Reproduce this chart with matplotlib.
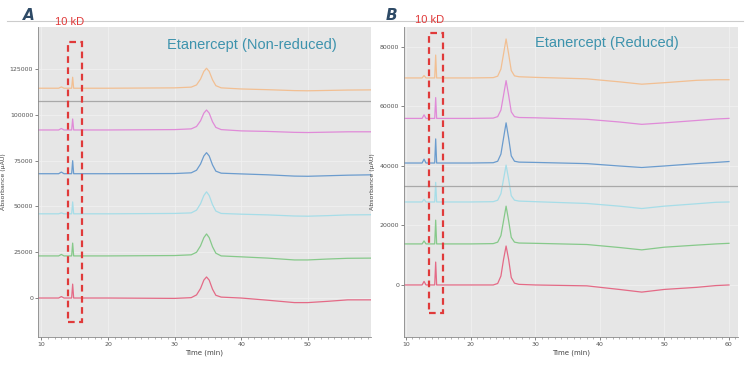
import matplotlib
matplotlib.use("Agg")
import matplotlib.pyplot as plt
from matplotlib.patches import Rectangle
from matplotlib.lines import Line2D
from matplotlib.ticker import MultipleLocator

# ---------------- data ----------------
# Panel A (non-reduced)
tA = [9.5, 12.6, 13.0, 13.4, 14.55, 14.7, 14.85, 20, 30, 32.5, 33.3, 33.9, 34.4, 34.8,
      35.2, 35.7, 36.2, 37.0, 40, 44, 48, 50, 53, 56, 59.5]
a_red = [0, 0, 800, 0, 0, 7600, 0, 0, -200, 200, 1700, 5200, 9800, 11500, 9800, 4800,
         1500, 500, 0, -1200, -2500, -2500, -1800, -1000, -1000]
a_green = [23000, 23000, 23800, 23000, 23000, 30000, 23000, 23000, 23200, 23600, 25000,
           28500, 33000, 35000, 33000, 28000, 24500, 23000, 22500, 21800, 20800, 20800,
           21300, 21700, 21800]
a_cyan = [46000, 46000, 46500, 46000, 46000, 52500, 46000, 46000, 46200, 46500, 48000,
          51500, 56000, 58000, 56000, 51000, 47500, 46200, 45800, 45400, 44800, 44700,
          45000, 45400, 45500]
a_blue = [67900, 67900, 68800, 67900, 67900, 75000, 67900, 67900, 68000, 68400, 69800,
          73200, 77600, 79400, 77600, 72700, 69300, 68200, 67800, 67300, 66600, 66500,
          66800, 67100, 67300]
a_magenta = [91800, 91800, 92600, 91800, 91800, 97800, 91800, 91800, 92000, 92400, 93700,
             96800, 101000, 102700, 101000, 96300, 93200, 92000, 91300, 91000, 90500,
             90400, 90600, 90800, 90800]
a_orange = [114600, 114600, 115300, 114600, 114600, 120600, 114600, 114600, 114800,
            115200, 116400, 119600, 123800, 125500, 123800, 119200, 116000, 114800,
            114200, 113800, 113300, 113200, 113400, 113600, 113700]
a_gray_t = [9.5, 59.5]
a_gray = [107700, 107700]

# Panel B (reduced)
tB = [9.7, 12.5, 12.8, 13.1, 14.45, 14.6, 14.75, 20, 23.5, 24.2, 24.7, 25.1, 25.5, 25.9,
      26.3, 26.8, 27.5, 30, 38, 43, 46.5, 50, 55, 58, 60]
b_red = [0, 0, 1200, 0, 0, 7700, 0, 0, 0, 500, 3000, 8500, 13100, 8500, 2500, 600, 200,
         0, -300, -1500, -2400, -1500, -800, -200, 0]
b_green = [13800, 13800, 14800, 13800, 13800, 21800, 13800, 13800, 13900, 14400, 16600,
           21500, 26500, 21500, 16000, 14400, 14100, 14000, 13600, 12600, 11800, 12700,
           13400, 13800, 14000]
b_cyan = [27900, 27900, 28800, 27900, 27900, 34500, 27900, 27900, 28000, 28500, 30700,
          35500, 40300, 35500, 30000, 28500, 28200, 28000, 27400, 26500, 25700, 26500,
          27300, 27800, 27900]
b_blue = [41000, 41000, 42300, 41000, 41000, 49100, 41000, 41000, 41100, 41600, 44000,
          49300, 54500, 49300, 43400, 41600, 41300, 41200, 40800, 40000, 39500, 40000,
          40800, 41200, 41500]
b_magenta = [56000, 56000, 57200, 56000, 56000, 63000, 56000, 56000, 56100, 56600, 58800,
             63700, 68700, 63700, 58200, 56600, 56300, 56200, 55700, 54800, 54000, 54500,
             55300, 55800, 56000]
b_orange = [69600, 69600, 70400, 69600, 69600, 77300, 69600, 69600, 69700, 70200, 72600,
            77600, 82700, 77600, 72100, 70300, 70000, 69800, 69300, 68300, 67500, 68000,
            68800, 69000, 69000]
b_gray_t = [9.7, 61.4]
b_gray = [33300, 33300]

yticksA = [0, 25000, 50000, 75000, 100000, 125000]
yticksB = [0, 20000, 40000, 60000, 80000]
xticksA = [10, 20, 30, 40, 50]
xticksB = [10, 20, 30, 40, 50, 60]

# ---------------- style ----------------
C_RED = "#e46a86"
C_GREEN = "#86c98a"
C_CYAN = "#a6dde8"
C_BLUE = "#6b9cce"
C_MAG = "#e08ad8"
C_ORANGE = "#f2bf92"
C_GRAY = "#a9a9a9"
C_BOX = "#e03a3a"
C_TITLE = "#3d93ad"
NARROW = ["Liberation Sans", "DejaVu Sans"]

fig = plt.figure(figsize=(7.5, 3.71), dpi=100)
fig.patch.set_facecolor("white")

axA = fig.add_axes([0.0507, 0.0916, 0.444, 0.8354])
axB = fig.add_axes([0.5387, 0.0916, 0.4453, 0.8354])


def style(ax, xlim, ylim, xt, yt):
    ax.set_facecolor("#e6e6e6")
    ax.set_xlim(*xlim)
    ax.set_ylim(*ylim)
    ax.set_xticks(xt)
    ax.set_yticks(yt)
    ax.xaxis.set_minor_locator(MultipleLocator(1))
    ax.tick_params(axis="both", which="major", labelsize=4.5, length=2, width=0.5,
                   colors="#555555", pad=1.5)
    ax.tick_params(axis="both", which="minor", length=1.2, width=0.4, colors="#777777")
    for s in ["top", "right"]:
        ax.spines[s].set_visible(False)
    for s in ["left", "bottom"]:
        ax.spines[s].set_color("#888888")
        ax.spines[s].set_linewidth(0.6)
    ax.grid(True, color="#f2f2f2", linewidth=0.5)
    ax.set_axisbelow(True)
    ax.set_xlabel("Time (min)", fontsize=5, color="#444444", labelpad=2)
    ax.set_ylabel("Absorbance (µAU)", fontsize=4.5, color="#444444", labelpad=3)


style(axA, (9.5, 59.5), (-21300, 148000), xticksA, yticksA)
style(axB, (9.7, 61.4), (-17500, 86700), xticksB, yticksB)

lw = 0.9
for ys, c in [(a_red, C_RED), (a_green, C_GREEN), (a_cyan, C_CYAN), (a_blue, C_BLUE),
              (a_magenta, C_MAG), (a_orange, C_ORANGE)]:
    axA.plot(tA, ys, color=c, lw=lw)
axA.plot(a_gray_t, a_gray, color=C_GRAY, lw=lw)

for ys, c in [(b_red, C_RED), (b_green, C_GREEN), (b_cyan, C_CYAN), (b_blue, C_BLUE),
              (b_magenta, C_MAG), (b_orange, C_ORANGE)]:
    axB.plot(tB, ys, color=c, lw=lw)
axB.plot(b_gray_t, b_gray, color=C_GRAY, lw=lw)

# dashed boxes
axA.add_patch(Rectangle((14.0, -13100), 2.1, 139800 + 13100, fill=False,
                        edgecolor=C_BOX, lw=1.6, linestyle=(0, (3, 2)), zorder=5))
axB.add_patch(Rectangle((13.6, -9400), 2.1, 84700 + 9400, fill=False,
                        edgecolor=C_BOX, lw=1.6, linestyle=(0, (3, 2)), zorder=5))

# titles
axA.text(0.643, 0.942, "Etanercept (Non-reduced)", transform=axA.transAxes,
         ha="center", va="center", fontsize=10.5, color=C_TITLE, family=NARROW)
axB.text(0.608, 0.948, "Etanercept (Reduced)", transform=axB.transAxes,
         ha="center", va="center", fontsize=10.5, color=C_TITLE, family=NARROW)

# header rule, letters and 10 kD labels
fig.add_artist(Line2D([7 / 750, 743 / 750], [1 - 21 / 371, 1 - 21 / 371],
                      transform=fig.transFigure, color="#cccccc", lw=0.8))
fig.text(29 / 750, 1 - 16 / 371, "A", fontsize=11, fontweight="bold", style="italic",
         color="#2e4a66", ha="center", va="center")
fig.text(391 / 750, 1 - 16 / 371, "B", fontsize=11, fontweight="bold", style="italic",
         color="#2e4a66", ha="center", va="center")
fig.text(70 / 750, 1 - 22 / 371, "10 kD", fontsize=8, color=C_BOX, family=NARROW,
         ha="center", va="center")
fig.text(430 / 750, 1 - 20 / 371, "10 kD", fontsize=8, color=C_BOX, family=NARROW,
         ha="center", va="center")

fig.savefig("out.png", dpi=100)
